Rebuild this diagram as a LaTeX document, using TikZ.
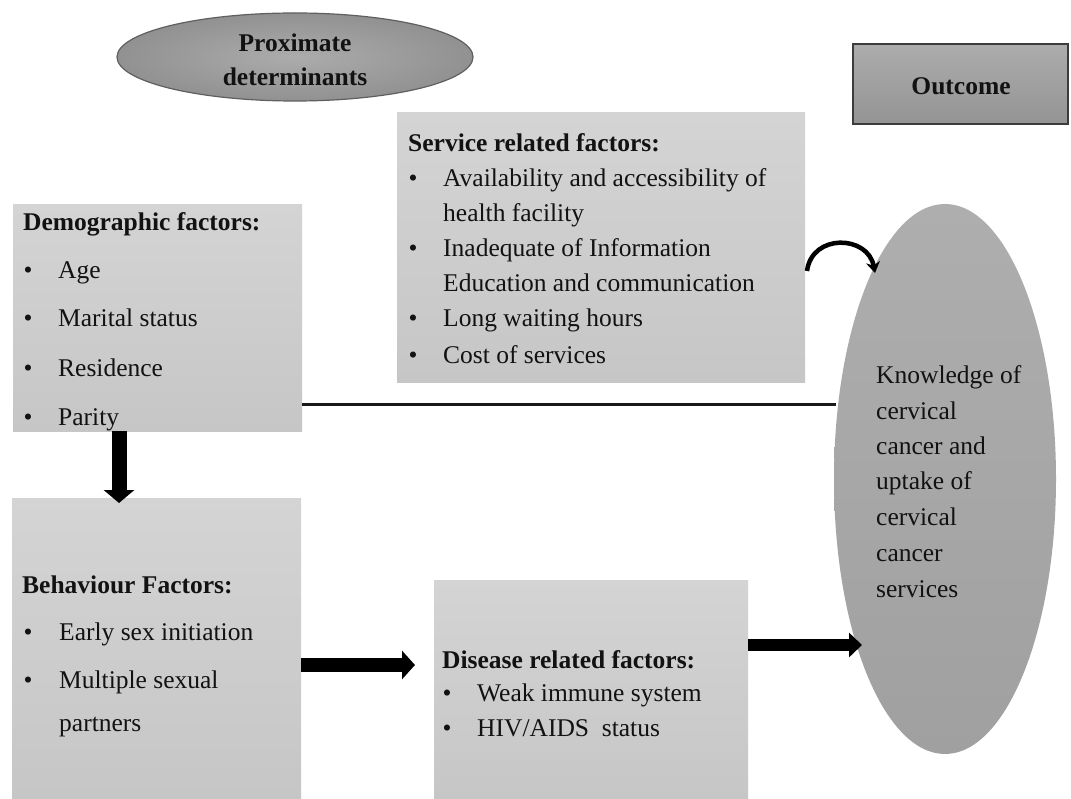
\documentclass[tikz,border=0pt]{standalone}
\usepackage{fontspec}
\setmainfont{Liberation Serif}
\usetikzlibrary{shapes.geometric,arrows.meta}
\definecolor{boxA}{RGB}{212,212,212}
\definecolor{boxB}{RGB}{198,198,198}
\definecolor{ellIn}{RGB}{172,172,172}
\definecolor{ellOut}{RGB}{145,145,145}
\definecolor{ellEdge}{RGB}{95,95,95}
\definecolor{ocA}{RGB}{174,174,174}
\definecolor{ocB}{RGB}{160,160,160}
\definecolor{outA}{RGB}{172,172,172}
\definecolor{outB}{RGB}{148,148,148}
\definecolor{edgeD}{RGB}{60,60,60}
\definecolor{txt}{RGB}{18,18,18}
\tikzset{
  panel/.style={rectangle, inner sep=0pt, outer sep=0pt, top color=boxA, bottom color=boxB, anchor=north west},
  ln/.style={anchor=mid west, inner sep=0pt, yshift=-6pt, text=txt, font=\fontsize{25.5}{30}\selectfont},
  hd/.style={ln, font=\fontsize{25.5}{30}\selectfont\bfseries},
  bul/.style={anchor=mid, inner sep=0pt, yshift=-6pt, text=txt, font=\fontsize{25.5}{30}\selectfont},
  ctr/.style={anchor=mid, inner sep=0pt, yshift=-6pt, text=txt, font=\fontsize{25.5}{30}\selectfont\bfseries},
  plainline/.style={line width=3pt, draw=black!90},
  blockarrow/.style={line width=#1, draw=black, -{Triangle[length=13pt,width=2*#1]}},
  curvearrow/.style={line width=4.5pt, draw=black, -{Stealth[length=11pt,width=14pt]}}
}
\begin{document}
\begin{tikzpicture}[x=1pt,y=-1pt]
\useasboundingbox (0,0) rectangle (1071,799);
\fill[white] (0,0) rectangle (1071,799);

% Proximate determinants ellipse
\node[ellipse, minimum width=356pt, minimum height=88pt, inner sep=0pt, inner color=ellIn, outer color=ellOut, draw=ellEdge, line width=1.2pt] (prox) at (295,57) {};
\node[ctr] (prox1) at (295,43) {Proximate};
\node[ctr] (prox2) at (295,77) {determinants};

% Outcome box
\node[rectangle, minimum width=215pt, minimum height=80pt, inner sep=0pt, top color=outA, bottom color=outB, draw=edgeD, line width=1.5pt] (outbox) at (960.5,84) {};
\node[ctr] (outt) at (961,86) {Outcome};

% panels
\node[panel, minimum width=289pt, minimum height=226pt] (demo) at (13,205) {};
\node[panel, minimum width=408pt, minimum height=270pt] (serv) at (397,113) {};
\node[panel, minimum width=289pt, minimum height=302pt] (behav) at (12,498) {};
\node[panel, minimum width=314pt, minimum height=220pt] (dis) at (434,580) {};

% horizontal line demographic -> outcome (drawn before the ellipse)
\coordinate (hle) at (836,405);
\draw[plainline] (demo.east |- hle) -- (hle);

% Outcome ellipse
\node[ellipse, minimum width=222pt, minimum height=550pt, inner sep=0pt, top color=ocA, bottom color=ocB] (outc) at (945,479) {};

% Demographic text
\node[hd] (dh) at (23,222) {Demographic factors:};
\foreach \t/\y [count=\i] in {Age/270, Marital status/318, Residence/368, Parity/417}{
  \node[bul] (db\i) at (28,\y) {\textbullet};
  \node[ln] (dt\i) at (58,\y) {\t};
}

% Service text
\node[hd] (sh) at (408,143) {Service related factors:};
\foreach \t/\y [count=\i] in {Availability and accessibility of/178, Inadequate of Information/248, Long waiting hours/318, Cost of services/355}{
  \node[bul] (sb\i) at (413,\y) {\textbullet};
  \node[ln] (st\i) at (443,\y) {\t};
}
\node[ln] (sw1) at (443,213) {health facility};
\node[ln] (sw2) at (443,283) {Education and communication};

% Behaviour text
\node[hd] (bh) at (22,585) {Behaviour Factors:};
\foreach \t/\y [count=\i] in {Early sex initiation/632, Multiple sexual/680}{
  \node[bul] (bb\i) at (28,\y) {\textbullet};
  \node[ln] (bt\i) at (59,\y) {\t};
}
\node[ln] (bw1) at (59,723) {partners};

% Disease text
\node[hd] (ih) at (442,660) {Disease related factors:};
\node[bul] (ib1) at (447,693) {\textbullet};
\node[ln] (it1) at (477,693) {Weak immune system};
\node[bul] (ib2) at (447,728) {\textbullet};
\node[ln] (it2) at (477,728) {HIV/AIDS\ \ status};

% Outcome ellipse text
\foreach \t/\y [count=\i] in {Knowledge of/375, cervical/411, cancer and/446, uptake of/481, cervical/517, cancer/553, services/589}{
  \node[ln] (ot\i) at (876,\y) {\t};
}

% arrows
\draw[blockarrow=15pt] ([xshift=106pt]demo.south west) -- ([xshift=107pt,yshift=-5pt]behav.north west);
\coordinate (r1) at (415,665);
\draw[blockarrow=14pt] (behav.east |- r1) -- (r1);
\coordinate (r2) at (862,645);
\draw[blockarrow=12pt] (dis.east |- r2) -- (r2);
\coordinate (ca) at (807,271);
\coordinate (cb) at (875,273);
\draw[curvearrow] (ca) .. controls (812,233) and (868,235) .. (cb);
\end{tikzpicture}
\end{document}
